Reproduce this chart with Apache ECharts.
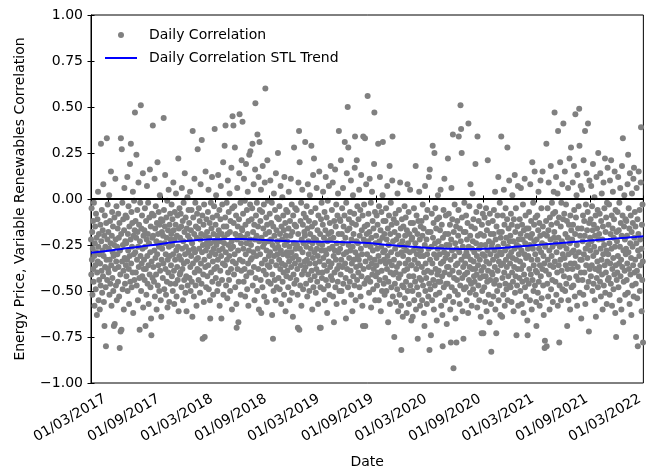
<!DOCTYPE html>
<html><head><meta charset="utf-8">
<script src="https://cdn.jsdelivr.net/npm/echarts@6/dist/echarts.min.js"></script>
<style>html,body{margin:0;padding:0;background:#fff}#c{width:646px;height:474px}</style>
</head><body><div id="c"></div>
<script>
// Daily correlation values, one inner array per month (day 1, 2, ...)
const corr2017 = [
[-0.22,-0.41,-0.05,-0.33,-0.18,-0.52,-0.27,-0.12,-0.38,-0.45,-0.02,-0.31,-0.58,-0.24,-0.15,-0.36,-0.49,-0.08,-0.29,-0.21,-0.63,-0.40,-0.11,-0.34,0.04,-0.26,-0.55,-0.19,-0.44,-0.30,-0.60],
[-0.35,-0.14,-0.47,0.30,-0.23,-0.39,-0.06,-0.51,-0.28,-0.17,-0.42,0.08,-0.31,-0.56,-0.20,-0.69,-0.09,-0.37,-0.26,-0.48,-0.80,-0.13,-0.33,0.33,-0.44,-0.22,-0.03,-0.38],
[-0.18,-0.40,-0.27,0.02,-0.52,-0.33,-0.12,-0.46,-0.24,0.15,-0.36,-0.58,-0.20,-0.07,-0.43,-0.29,-0.15,-0.50,-0.31,-0.69,-0.25,-0.10,-0.68,-0.38,0.11,-0.22,-0.47,-0.34,-0.04,-0.55,-0.26],
[-0.30,-0.16,-0.45,-0.08,-0.37,-0.21,-0.53,-0.13,-0.81,-0.28,-0.41,-0.72,0.33,-0.19,-0.71,0.27,-0.34,-0.02,-0.49,-0.25,-0.11,-0.39,-0.60,-0.17,0.06,-0.32,-0.46,-0.23,-0.09,-0.36],
[-0.24,-0.42,-0.10,-0.33,0.12,-0.50,-0.19,-0.28,-0.04,-0.38,-0.57,-0.15,-0.31,0.19,-0.45,-0.22,0.30,-0.35,-0.07,-0.48,-0.26,-0.13,-0.40,0.04,-0.62,-0.20,-0.30,-0.01,-0.44,-0.17,0.47],
[-0.29,-0.12,-0.40,-0.21,0.24,-0.47,-0.33,-0.06,-0.18,-0.55,-0.26,0.09,-0.37,-0.14,-0.43,-0.71,-0.23,-0.02,-0.31,0.51,-0.50,-0.16,-0.35,-0.09,-0.42,-0.27,0.14,-0.59,-0.20,-0.38],
[-0.33,-0.17,-0.44,-0.05,-0.26,-0.69,-0.38,-0.12,-0.52,-0.22,0.07,-0.31,-0.46,-0.19,-0.02,-0.36,-0.57,-0.24,-0.10,-0.41,0.16,-0.29,-0.48,-0.15,-0.65,-0.74,-0.34,-0.08,-0.21,-0.43,0.40],
[-0.20,-0.37,-0.09,-0.45,-0.28,0.11,-0.53,-0.16,-0.32,-0.04,-0.41,-0.23,-0.60,-0.13,-0.30,0.20,-0.47,-0.19,-0.36,-0.07,-0.26,-0.50,-0.14,0.02,-0.39,-0.24,-0.55,-0.11,-0.64,-0.33,-0.18],
[-0.27,-0.12,-0.43,-0.20,-0.35,0.44,-0.06,-0.49,-0.24,-0.15,0.13,-0.38,-0.30,-0.52,-0.10,-0.21,-0.45,-0.01,-0.59,-0.33,-0.17,-0.40,0.05,-0.26,-0.56,-0.14,-0.31,-0.08,-0.46,-0.22],
[-0.36,-0.19,-0.03,-0.42,-0.25,-0.11,-0.50,-0.30,0.09,-0.17,-0.39,-0.57,-0.22,-0.07,-0.33,-0.46,-0.14,0.03,-0.28,-0.53,-0.20,-0.37,-0.09,-0.44,-0.26,0.22,-0.61,-0.16,-0.31,-0.05,-0.41],
[-0.21,-0.40,-0.08,-0.33,-0.15,-0.48,0.06,-0.27,-0.38,-0.12,-0.55,-0.23,-0.02,-0.35,-0.44,-0.18,0.14,-0.30,-0.51,-0.10,-0.26,-0.42,-0.61,-0.16,-0.34,0.01,-0.47,-0.20,-0.29,-0.06],
[-0.28,-0.13,-0.43,-0.22,0.04,-0.37,-0.50,-0.17,-0.31,-0.06,-0.45,-0.24,-0.64,0.37,-0.35,-0.10,-0.27,-0.53,-0.19,0.11,-0.40,-0.29,-0.02,-0.47,-0.15,-0.33,-0.58,-0.21,-0.08,-0.38,0.27]
];
const corr2018 = [
[-0.32,-0.16,-0.44,-0.05,-0.27,-0.39,-0.12,-0.51,-0.22,0.08,-0.35,-0.19,-0.46,0.32,-0.29,-0.09,-0.76,-0.25,-0.41,-0.14,-0.56,-0.03,-0.33,-0.75,-0.20,-0.37,0.15,-0.28,-0.48,-0.11,-0.24],
[-0.18,-0.42,-0.26,-0.07,-0.36,0.05,-0.49,-0.21,-0.31,-0.13,-0.55,-0.65,-0.24,-0.02,-0.40,-0.16,-0.29,0.12,-0.45,-0.10,-0.34,-0.52,-0.19,-0.27,-0.04,-0.38,0.38,-0.23],
[-0.30,-0.14,-0.43,0.02,-0.25,-0.37,-0.09,-0.50,-0.20,-0.33,0.13,-0.46,-0.17,-0.28,-0.06,-0.58,-0.23,-0.39,-0.11,0.07,-0.31,-0.65,-0.19,-0.44,-0.03,-0.27,-0.35,0.20,-0.52,-0.15,-0.24],
[-0.21,0.29,-0.36,-0.10,0.40,-0.29,-0.47,-0.15,-0.02,-0.33,-0.54,-0.19,0.10,-0.40,-0.25,-0.07,-0.44,-0.31,0.03,-0.18,-0.50,-0.12,-0.27,-0.38,0.17,-0.23,-0.60,-0.05,0.45,-0.34],
[-0.26,0.40,-0.13,-0.41,-0.04,-0.30,0.28,-0.48,-0.19,-0.35,-0.09,-0.57,-0.70,-0.22,0.06,-0.38,-0.15,-0.28,-0.67,-0.45,-0.11,0.14,0.46,-0.33,-0.20,-0.02,-0.52,-0.24,-0.39,0.21,-0.16],
[-0.17,0.42,-0.34,-0.08,-0.27,-0.45,0.11,-0.21,-0.38,-0.01,-0.53,-0.14,-0.30,0.19,-0.42,-0.24,-0.06,-0.49,-0.19,0.04,-0.35,-0.58,-0.12,-0.28,0.24,-0.40,-0.22,-0.03,0.26,-0.33],
[-0.25,-0.40,-0.11,-0.32,-0.05,0.30,-0.47,-0.18,-0.29,0.08,-0.37,-0.14,-0.55,-0.22,0.16,0.52,-0.43,-0.09,-0.31,-0.20,-0.02,-0.50,0.35,-0.27,-0.15,-0.38,0.12,-0.60,-0.23,0.31,-0.06],
[-0.30,-0.12,-0.44,0.05,-0.62,-0.21,-0.35,-0.07,-0.48,0.18,-0.26,-0.16,-0.39,-0.03,-0.53,-0.24,0.09,-0.33,0.60,-0.19,-0.41,-0.10,-0.28,-0.56,-0.14,0.21,-0.36,-0.01,-0.45,-0.23,-0.31],
[-0.18,-0.37,-0.08,-0.29,0.10,-0.46,-0.22,-0.13,-0.34,-0.02,-0.63,-0.41,-0.25,-0.76,-0.15,-0.50,0.03,-0.31,-0.20,-0.44,-0.06,-0.27,-0.55,0.14,-0.36,-0.17,-0.48,-0.10,-0.30,-0.23],
[0.25,-0.26,-0.43,-0.11,-0.33,-0.04,-0.49,-0.19,-0.38,0.07,-0.28,-0.57,-0.15,-0.35,-0.22,0.01,-0.45,-0.30,-0.09,-0.40,-0.17,-0.52,0.12,-0.25,-0.36,-0.13,-0.61,-0.20,-0.06,-0.42,-0.29],
[-0.23,-0.39,-0.07,-0.31,-0.48,-0.16,0.04,-0.34,-0.26,-0.55,-0.12,-0.43,-0.20,0.11,-0.37,-0.29,-0.03,-0.51,-0.18,-0.32,-0.64,-0.09,-0.41,-0.24,0.28,-0.46,-0.14,-0.35,-0.05,-0.27],
[-0.31,-0.15,-0.44,-0.06,-0.25,-0.38,-0.52,-0.70,-0.19,0.09,-0.33,0.37,-0.71,0.20,-0.27,-0.47,-0.12,-0.36,-0.02,-0.58,-0.22,-0.41,0.05,-0.29,-0.14,-0.49,-0.24,-0.08,-0.39,-0.18,-0.34]
];
const corr2019 = [
[-0.20,0.31,-0.37,-0.10,-0.46,-0.26,-0.04,-0.33,-0.53,-0.16,0.08,-0.41,-0.23,-0.30,-0.12,-0.50,-0.35,0.02,-0.19,-0.44,-0.27,-0.07,0.29,-0.39,-0.15,-0.60,-0.24,-0.32,0.13,-0.48,-0.21],
[0.22,-0.29,-0.42,-0.13,-0.35,-0.05,-0.51,-0.22,-0.38,0.06,-0.27,-0.45,-0.17,-0.31,-0.57,-0.09,-0.40,-0.24,0.15,-0.34,-0.70,-0.19,-0.48,-0.70,-0.11,-0.28,-0.02,-0.43],
[-0.25,-0.40,-0.14,0.04,-0.32,-0.49,-0.21,-0.36,-0.07,-0.55,-0.28,-0.17,0.12,-0.44,-0.30,-0.10,-0.39,-0.62,-0.23,-0.01,-0.47,-0.19,-0.34,0.07,-0.27,-0.52,-0.13,-0.37,-0.22,0.18,-0.42],
[-0.18,-0.35,-0.06,-0.44,-0.26,0.09,-0.53,-0.21,-0.31,-0.67,-0.12,-0.40,-0.28,0.16,-0.48,-0.15,-0.33,-0.03,-0.57,-0.24,-0.38,-0.09,-0.45,0.03,-0.29,-0.19,0.37,-0.36,-0.50,-0.11],
[-0.27,-0.12,-0.41,0.21,-0.33,-0.50,-0.19,-0.05,-0.37,-0.24,0.06,-0.46,-0.15,-0.30,-0.56,-0.09,0.31,-0.35,-0.21,-0.43,-0.65,-0.02,-0.29,0.14,-0.38,-0.17,0.50,-0.48,0.28,-0.25,-0.11],
[-0.32,-0.16,-0.45,-0.07,-0.28,-0.39,0.10,-0.52,-0.22,-0.35,-0.13,-0.61,-0.26,0.02,-0.42,-0.19,-0.33,-0.08,-0.47,0.17,0.34,-0.29,-0.55,-0.14,-0.37,-0.23,0.21,-0.44,-0.04,-0.31],
[-0.24,-0.40,-0.11,-0.33,0.05,-0.48,-0.20,-0.36,-0.06,-0.53,-0.27,0.13,-0.42,-0.17,-0.30,-0.58,-0.09,-0.69,0.34,-0.38,-0.22,-0.03,-0.46,-0.15,0.33,-0.69,-0.34,-0.25,0.08,-0.44,-0.19],
[-0.30,-0.14,0.56,-0.43,-0.23,-0.08,-0.37,-0.51,-0.18,0.11,-0.32,-0.45,-0.26,-0.02,-0.59,-0.21,-0.35,0.04,-0.41,-0.12,-0.28,-0.49,-0.16,-0.38,0.19,0.47,-0.33,-0.07,-0.55,-0.24,-0.42],
[-0.20,-0.36,-0.09,-0.47,-0.27,-0.14,-0.40,0.30,-0.31,-0.55,-0.04,-0.23,-0.44,0.12,-0.34,-0.17,-0.61,-0.26,-0.07,-0.39,-0.50,-0.21,0.02,0.31,-0.29,-0.12,-0.46,-0.33,-0.19,-0.52],
[-0.28,-0.43,-0.12,-0.35,-0.05,-0.50,-0.22,-0.38,0.07,-0.31,-0.16,-0.67,-0.45,-0.25,-0.09,-0.34,0.18,-0.57,-0.19,-0.40,-0.02,-0.29,-0.48,-0.14,-0.36,0.10,0.34,-0.53,-0.23,-0.41,-0.11],
[-0.33,-0.75,-0.18,-0.46,-0.27,-0.08,-0.40,-0.56,-0.22,-0.13,-0.37,-0.49,0.03,-0.30,-0.61,-0.20,-0.43,-0.06,-0.35,-0.52,-0.25,0.09,-0.41,-0.16,-0.58,-0.82,-0.29,-0.11,-0.47,-0.23],
[-0.64,-0.31,-0.15,-0.48,-0.26,-0.39,-0.04,-0.54,-0.20,-0.35,-0.10,-0.45,-0.28,-0.62,-0.17,-0.38,0.08,-0.50,-0.24,-0.33,-0.07,-0.57,-0.42,-0.19,-0.29,0.05,-0.47,-0.13,-0.36,-0.66,-0.22]
];
const corr2020 = [
[-0.36,-0.21,-0.50,-0.64,-0.13,-0.42,-0.28,-0.05,-0.55,-0.33,-0.17,-0.45,-0.24,0.18,-0.60,-0.38,-0.09,-0.30,-0.48,-0.19,-0.76,-0.35,-0.12,-0.52,-0.27,0.04,-0.43,-0.22,-0.58,-0.31,-0.15],
[-0.28,-0.44,-0.12,-0.37,-0.55,-0.20,-0.03,-0.47,-0.31,-0.16,-0.62,-0.40,-0.69,-0.25,0.07,-0.50,-0.35,-0.10,-0.43,-0.22,-0.57,-0.30,-0.06,-0.39,-0.18,-0.53,-0.27,0.12,-0.46],
[-0.82,0.16,-0.33,-0.49,-0.18,-0.74,-0.40,-0.26,-0.08,-0.55,-0.35,0.29,-0.21,-0.44,-0.13,-0.60,-0.30,0.25,-0.47,-0.24,-0.05,-0.38,-0.52,-0.16,-0.32,-0.66,-0.11,-0.41,-0.27,0.02,-0.45],
[-0.23,-0.39,-0.10,-0.51,-0.30,-0.17,-0.45,0.05,-0.35,-0.58,-0.26,-0.14,-0.42,-0.63,-0.80,-0.21,-0.34,-0.06,-0.48,-0.29,0.11,-0.40,-0.55,-0.19,-0.32,-0.09,-0.46,-0.25,-0.68,-0.37],
[-0.30,-0.46,0.22,-0.19,-0.37,-0.08,-0.53,-0.25,-0.41,-0.14,-0.60,-0.33,-0.78,-0.22,0.06,-0.48,-0.28,-0.11,-0.39,0.35,-0.56,-0.92,-0.18,-0.43,-0.31,-0.03,-0.50,-0.24,-0.65,-0.36,-0.15],
[-0.78,-0.27,-0.44,-0.12,-0.35,-0.52,-0.20,-0.06,0.34,-0.40,-0.29,-0.57,-0.16,-0.47,0.51,-0.23,0.38,-0.33,0.25,-0.10,-0.43,-0.61,-0.26,-0.37,-0.76,-0.18,-0.49,-0.02,-0.31,-0.41],
[-0.35,-0.18,-0.48,-0.09,-0.29,-0.55,-0.22,-0.40,-0.13,-0.31,-0.62,0.41,-0.26,-0.44,-0.04,-0.37,-0.51,-0.20,0.08,-0.33,-0.46,-0.15,-0.58,-0.27,-0.38,0.03,-0.23,-0.49,-0.11,-0.34,-0.42],
[-0.29,-0.45,-0.16,-0.38,0.19,-0.52,-0.24,-0.07,-0.41,-0.31,-0.59,0.34,-0.20,-0.36,-0.47,-0.12,-0.27,-0.55,-0.04,-0.33,-0.43,-0.19,-0.64,-0.25,-0.39,-0.73,-0.14,-0.50,-0.30,-0.08,-0.42],
[-0.73,-0.37,-0.20,-0.48,-0.10,-0.31,-0.56,-0.25,-0.42,-0.05,-0.34,-0.61,-0.17,-0.45,-0.28,0.21,-0.39,-0.13,-0.52,-0.23,-0.35,-0.67,-0.08,-0.44,-0.30,-0.19,-0.57,-0.83,-0.26,-0.40],
[-0.24,-0.41,-0.12,-0.33,-0.53,-0.19,-0.06,-0.46,-0.28,-0.37,0.04,-0.60,-0.22,-0.44,-0.73,-0.15,-0.31,-0.50,-0.09,-0.39,-0.26,0.12,-0.55,-0.34,-0.18,-0.47,-0.02,-0.29,-0.63,-0.21,-0.36],
[0.34,-0.30,-0.18,-0.64,-0.43,-0.09,-0.35,-0.52,-0.24,0.05,-0.40,-0.14,-0.58,-0.28,-0.46,-0.05,-0.33,-0.21,-0.49,-0.37,-0.11,0.28,-0.55,-0.26,-0.42,-0.16,-0.31,0.10,-0.47,-0.23],
[-0.35,-0.20,-0.48,-0.08,-0.29,-0.56,-0.14,-0.40,0.02,-0.32,-0.45,-0.23,-0.61,-0.11,-0.37,-0.27,0.13,-0.51,-0.18,-0.42,-0.05,-0.33,-0.74,-0.25,-0.47,-0.15,-0.38,0.07,-0.58,-0.22,-0.30]
];
const corr2021 = [
[-0.26,-0.43,-0.11,-0.34,-0.50,-0.19,0.06,-0.38,-0.28,-0.57,-0.14,-0.45,-0.22,-0.03,-0.36,-0.62,-0.17,-0.41,-0.30,0.11,-0.48,-0.24,-0.09,-0.53,-0.32,-0.16,-0.44,-0.20,-0.66,-0.74,-0.27],
[-0.31,-0.16,-0.46,-0.07,-0.38,-0.25,-0.55,0.08,-0.21,-0.41,-0.12,-0.33,-0.60,-0.19,0.20,-0.44,-0.27,-0.02,-0.50,-0.36,-0.14,-0.23,0.15,-0.47,-0.30,-0.10,-0.39,-0.56],
[-0.69,-0.22,-0.40,-0.09,-0.33,-0.51,-0.17,0.04,-0.45,-0.27,-0.13,-0.58,-0.36,-0.20,0.10,-0.42,-0.29,-0.05,-0.54,-0.24,-0.38,0.15,-0.15,-0.47,-0.31,-0.63,-0.19,-0.35,-0.81,-0.77,-0.26],
[-0.25,-0.39,-0.12,0.30,-0.80,-0.20,-0.46,-0.05,-0.33,-0.53,-0.17,0.09,-0.41,-0.28,-0.60,-0.10,-0.36,-0.22,0.18,-0.49,-0.14,-0.31,-0.02,-0.44,-0.26,-0.56,-0.08,-0.37,0.04,-0.21],
[-0.18,0.47,-0.34,-0.07,-0.45,-0.24,0.12,-0.52,-0.29,-0.13,-0.40,0.03,-0.58,0.37,-0.21,-0.36,-0.10,-0.78,-0.47,-0.26,0.20,-0.33,-0.15,-0.55,-0.02,-0.39,-0.23,0.08,-0.49,-0.30,-0.11],
[0.41,-0.25,-0.42,-0.08,-0.32,0.15,-0.50,-0.19,-0.36,-0.03,-0.46,-0.27,-0.12,-0.69,-0.38,-0.21,0.06,-0.55,-0.30,-0.14,-0.43,0.22,-0.24,-0.60,-0.09,-0.35,0.28,-0.17,-0.48,-0.29],
[-0.22,-0.38,0.09,-0.14,-0.47,-0.28,0.18,-0.06,-0.35,-0.53,-0.19,0.46,-0.31,-0.10,-0.42,0.02,-0.25,-0.58,0.13,-0.37,-0.16,-0.44,-0.04,-0.29,0.49,0.29,-0.51,-0.20,-0.33,0.07,-0.40],
[-0.65,-0.16,-0.33,0.05,-0.44,-0.23,-0.09,-0.52,0.21,-0.30,-0.12,-0.40,-0.20,0.37,-0.57,-0.27,-0.03,-0.36,0.14,-0.48,-0.17,-0.32,-0.07,0.41,-0.25,-0.45,-0.72,-0.13,0.10,-0.38,-0.21],
[-0.28,-0.11,-0.42,0.07,-0.23,-0.36,-0.04,-0.50,-0.17,0.19,-0.31,-0.46,-0.14,-0.26,0.01,-0.55,-0.20,-0.38,-0.09,-0.64,-0.29,0.12,-0.43,-0.16,-0.34,-0.06,-0.48,0.25,-0.22,-0.39],
[-0.19,-0.37,-0.08,-0.45,0.14,-0.27,-0.53,-0.12,-0.33,0.03,-0.41,-0.22,-0.60,-0.15,-0.30,0.09,-0.47,-0.25,-0.05,-0.36,0.22,-0.51,-0.18,-0.40,-0.10,-0.28,-0.57,-0.02,-0.34,0.17,-0.44],
[-0.30,-0.14,-0.43,-0.03,-0.24,-0.52,0.10,-0.35,-0.19,-0.46,0.21,-0.27,-0.09,-0.58,-0.38,-0.16,0.04,-0.32,-0.49,-0.21,-0.11,-0.41,0.15,-0.26,-0.62,-0.06,-0.36,-0.75,-0.18,-0.44],
[-0.23,-0.40,-0.07,-0.31,0.12,-0.48,-0.17,-0.35,-0.02,-0.55,-0.26,0.06,-0.42,-0.13,-0.33,-0.60,-0.20,0.18,-0.37,-0.09,0.33,-0.67,-0.28,-0.45,-0.15,0.02,-0.39,-0.22,-0.52,-0.11,-0.30]
];
const corr2022 = [
[-0.27,-0.12,-0.44,-0.20,-0.35,0.08,-0.51,0.24,-0.29,-0.05,-0.38,-0.16,-0.57,0.14,-0.24,-0.41,-0.09,-0.32,-0.63,-0.18,0.03,-0.47,-0.26,-0.13,-0.36,0.11,-0.53,0.17,-0.21,-0.40,-0.07],
[-0.33,-0.15,-0.46,-0.75,-0.24,0.06,-0.39,-0.54,-0.11,-0.80,-0.28,-0.19,0.15,-0.42,-0.31,-0.06,-0.50,-0.22,-0.36,0.09,0.39,-0.27,-0.61,-0.14,-0.44,-0.03,-0.34,-0.78]
];
const corrYears = [2017, 2018, 2019, 2020, 2021, 2022];
const corrByYear = [corr2017, corr2018, corr2019, corr2020, corr2021, corr2022];

// STL trend, first day of each month from Jan 2017
const trendValues = [
-0.292,-0.287,-0.281,-0.275,-0.268,-0.262,-0.256,-0.250,-0.243,-0.236,-0.231,-0.227,
-0.223,-0.220,-0.219,-0.218,-0.218,-0.218,-0.219,-0.221,-0.224,-0.227,-0.229,-0.230,
-0.231,-0.232,-0.232,-0.233,-0.234,-0.235,-0.236,-0.239,-0.243,-0.248,-0.252,-0.256,
-0.259,-0.263,-0.266,-0.268,-0.270,-0.271,-0.272,-0.272,-0.271,-0.269,-0.266,-0.262,
-0.258,-0.254,-0.250,-0.246,-0.242,-0.238,-0.234,-0.230,-0.226,-0.222,-0.218,-0.214,
-0.210,-0.206,-0.202
];

const xTickDates = ['2017-03-01','2017-09-01','2018-03-01','2018-09-01','2019-03-01','2019-09-01',
  '2020-03-01','2020-09-01','2021-03-01','2021-09-01','2022-03-01'];

const FONT = 'DejaVu Sans';
const xMin = Date.UTC(2017, 0, 1);
const xMax = Date.UTC(2022, 2, 1);
const xTicks = xTickDates.map(s => Date.parse(s + 'T00:00:00Z'));

const scatterData = [];
corrByYear.forEach((yr, yi) => {
  yr.forEach((monthVals, m) => {
    monthVals.forEach((v, d) => {
      scatterData.push([Date.UTC(corrYears[yi], m, d + 1), v]);
    });
  });
});
const trendData = trendValues.map((v, i) => [Date.UTC(2017, i, 1), v]);

function pad(n) { return (n < 10 ? '0' : '') + n; }
function fmtDate(v) {
  const d = new Date(v);
  return pad(d.getUTCDate()) + '/' + pad(d.getUTCMonth() + 1) + '/' + d.getUTCFullYear();
}
function fmtY(v) { return (v < 0 ? '\u2212' : '') + Math.abs(v).toFixed(2); }

const txt = { fontFamily: FONT, fontSize: 14, color: '#000' };

const chart = echarts.init(document.getElementById('c'), null, { renderer: 'canvas' });
chart.setOption({
  animation: false,
  backgroundColor: '#fff',
  grid: { left: 91, right: 1, top: 15, bottom: 91, show: true, borderColor: '#000', borderWidth: 1, backgroundColor: 'transparent' },
  legend: [
    { data: [{ name: 'Daily Correlation', icon: 'circle' }], left: 118, top: 28, padding: 0, itemWidth: 6, itemHeight: 6,
      selectedMode: false, textStyle: Object.assign({}, txt, { padding: [0, 0, 0, 20] }) },
    { data: [{ name: 'Daily Correlation STL Trend', icon: 'rect' }], left: 105, top: 51, padding: 0, itemWidth: 32, itemHeight: 2,
      selectedMode: false, textStyle: Object.assign({}, txt, { padding: [0, 0, 0, 7] }) }
  ],
  xAxis: [
    { type: 'value', min: xMin, max: xMax, position: 'bottom',
      axisLine: { show: true, lineStyle: { color: '#000', width: 1 } },
      axisTick: { show: true, inside: false, length: 3.5, customValues: xTicks, lineStyle: { color: '#000' } },
      axisLabel: { customValues: xTicks, formatter: fmtDate, rotate: 30, margin: 13, padding: [0, 4, 0, 0],
        fontFamily: FONT, fontSize: 14, color: '#000' },
      splitLine: { show: false },
      name: 'Date', nameLocation: 'middle', nameGap: 72, nameTextStyle: txt },
    { type: 'value', min: xMin, max: xMax, position: 'bottom',
      axisLine: { show: false },
      axisTick: { show: true, inside: true, length: 3.5, customValues: xTicks, lineStyle: { color: '#000' } },
      axisLabel: { show: false }, splitLine: { show: false } }
  ],
  yAxis: [
    { type: 'value', min: -1, max: 1, interval: 0.25, position: 'left',
      axisLine: { show: true, lineStyle: { color: '#000', width: 1 } },
      axisTick: { show: true, inside: false, length: 3.5, lineStyle: { color: '#000' } },
      axisLabel: { formatter: fmtY, margin: 8, fontFamily: FONT, fontSize: 14, color: '#000' },
      splitLine: { show: false },
      name: 'Energy Price, Variable Renewables Correlation', nameLocation: 'middle', nameGap: 64, nameRotate: 90, nameTextStyle: txt },
    { type: 'value', min: -1, max: 1, interval: 0.25, position: 'left',
      axisLine: { show: false },
      axisTick: { show: true, inside: true, length: 3.5, lineStyle: { color: '#000' } },
      axisLabel: { show: false }, splitLine: { show: false } }
  ],
  series: [
    { name: 'Daily Correlation', type: 'scatter', data: scatterData, symbolSize: 6,
      itemStyle: { color: '#808080', opacity: 1 }, z: 2, emphasis: { disabled: true } },
    { name: 'Daily Correlation STL Trend', type: 'line', data: trendData, symbol: 'none', smooth: true,
      lineStyle: { color: '#0000ff', width: 2 }, itemStyle: { color: '#0000ff' }, z: 4, emphasis: { disabled: true },
      markLine: { silent: true, symbol: 'none', label: { show: false },
        lineStyle: { color: '#000', width: 2, type: 'solid' }, data: [{ yAxis: 0 }] } }
  ]
});
</script>
</body></html>
